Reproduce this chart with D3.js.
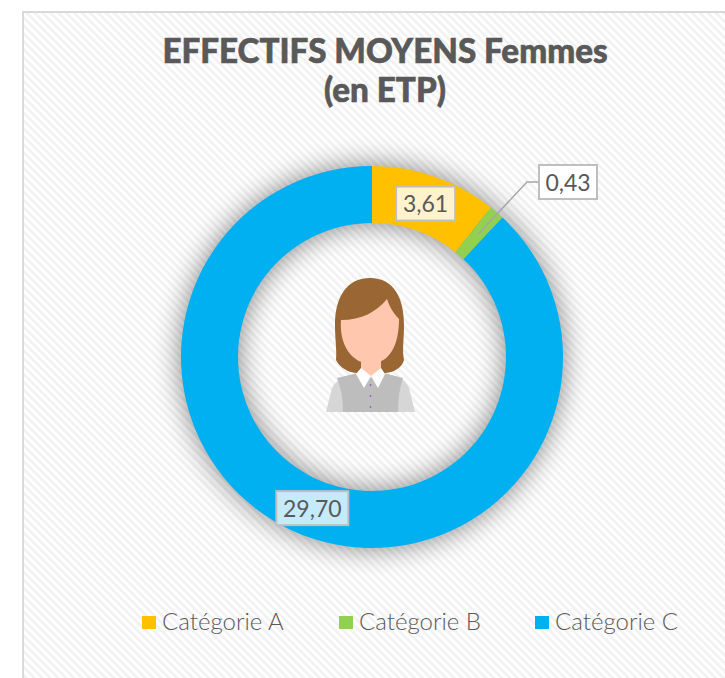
<!DOCTYPE html>
<html lang="fr"><head><meta charset="utf-8">
<script src="https://cdnjs.cloudflare.com/ajax/libs/d3/7.8.5/d3.min.js"></script>
<style>html,body{margin:0;padding:0;background:#fff}svg{display:block}</style>
</head><body><div id="c"></div>
<script>
const categories = ["Catégorie A", "Catégorie B", "Catégorie C"];
const values = [3.61, 0.43, 29.70];
const valueLabels = ["3,61", "0,43", "29,70"];
const colors = ["#FFC000", "#92D050", "#00B0F0"];
const labelFills = ["#FFF2CC", "#FFFFFF", "#C5EBFB"];
const titleLines = ["EFFECTIFS MOYENS Femmes", "(en ETP)"];

const W = 725, H = 678, cx = 372, cy = 357, rOuter = 191, rInner = 134;
const svg = d3.select("#c").append("svg").attr("width", W).attr("height", H);
const defs = svg.append("defs");
const pat = defs.append("pattern").attr("id", "hatch").attr("width", 5.6).attr("height", 5.6)
  .attr("patternUnits", "userSpaceOnUse").attr("patternTransform", "rotate(45)");
pat.append("rect").attr("width", 5.6).attr("height", 5.6).attr("fill", "#fff");
pat.append("rect").attr("width", 5.6).attr("height", 2.8).attr("fill", "#f2f2f2");
const blur = defs.append("filter").attr("id", "shadow").attr("x", "-30%").attr("y", "-30%").attr("width", "160%").attr("height", "160%");
blur.append("feGaussianBlur").attr("stdDeviation", 14);

svg.append("rect").attr("x", 23).attr("y", 12).attr("width", W + 20).attr("height", H + 20)
  .attr("fill", "url(#hatch)").attr("stroke", "#d9d9d9").attr("stroke-width", 2);

svg.append("g").selectAll("text").data(titleLines).join("text")
  .attr("x", 385).attr("y", (d, i) => 63 + i * 39).attr("text-anchor", "middle")
  .attr("font-family", "Lato").attr("font-weight", 900).attr("font-size", 33.2).attr("fill", "#595959")
  .attr("stroke", "#595959").attr("stroke-width", 0.6)
  .text(d => d);

const pie = d3.pie().sort(null).value(d => d);
const arcs = pie(values);
const arc = d3.arc().innerRadius(rInner).outerRadius(rOuter);
const ring = svg.append("g").attr("transform", `translate(${cx},${cy})`);
ring.append("path").attr("d", d3.arc().innerRadius(rInner).outerRadius(rOuter)({startAngle: 0, endAngle: 2 * Math.PI}))
  .attr("fill", "#000").attr("opacity", 0.48).attr("filter", "url(#shadow)");
ring.selectAll("path.s").data(arcs).join("path").attr("class", "s").attr("d", arc).attr("fill", (d, i) => colors[i]);

// Leader line for the small slice
const c1 = arc.centroid(arcs[1]);
ring.append("path").attr("d", d3.line()([c1, [155, -175], [166, -175]]))
  .attr("fill", "none").attr("stroke", "#a6a6a6").attr("stroke-width", 1.5);

// Value labels
const boxW = [59, 58, 72], boxH = 34;
const centers = [arc.centroid(arcs[0]), [196, -175], arc.centroid(arcs[2])];
const lab = ring.selectAll("g.l").data(values).join("g").attr("class", "l")
  .attr("transform", (d, i) => `translate(${centers[i]})`);
lab.append("rect").attr("x", (d, i) => -boxW[i] / 2).attr("y", -boxH / 2).attr("width", (d, i) => boxW[i]).attr("height", boxH)
  .attr("fill", (d, i) => labelFills[i]).attr("stroke", "#bfbfbf").attr("stroke-width", 2);
lab.append("text").attr("text-anchor", "middle").attr("y", 8.5)
  .attr("font-family", "Lato").attr("font-size", 23).attr("fill", "#595959").text((d, i) => valueLabels[i]);

// Person icon
const p = svg.append("g");
p.append("path").attr("fill", "#D6D6D6").attr("d", "M326 412 L332 388 Q336 380 345 377 L362 372 L380 372 L397 377 Q406 380 409 388 L415 412 Z");
p.append("path").attr("fill", "#BDBDBD").attr("d", "M343 412 Q343 392 337 378 L362 372 L380 372 L403 378 Q398 392 398 412 Z");
p.append("path").attr("fill", "#9A6634").attr("d", "M370 278 C346 278 335 298 335 325 C335 340 337 350 336 360 C340 368 350 374 360 373 L382 373 C392 374 402 368 404 360 C402 350 404 340 404 325 C404 298 394 278 370 278 Z");
p.append("path").attr("fill", "#FFC7AE").attr("d", "M341 320 C362 320 376 312 387 299 C390 308 394 314 399 319 C399 345 390 362 372 364 C352 364 339 345 341 320 Z");
p.append("path").attr("fill", "#FFC7AE").attr("d", "M361 360 L381 360 L381 372 L371 378 L361 372 Z");
p.append("path").attr("fill", "#FFFFFF").attr("d", "M361 368 L371 376 L364 388 L356 374 Z M381 368 L371 376 L378 388 L385 374 Z");
p.append("g").attr("fill", "#9B59D0").selectAll("circle").data([385, 396, 407]).join("circle")
  .attr("cx", 370.5).attr("cy", d => d).attr("r", 0.9);

// Legend
const legendX = [142, 339, 535];
const lg = svg.selectAll("g.lg").data(categories).join("g").attr("class", "lg")
  .attr("transform", (d, i) => `translate(${legendX[i]},616)`);
lg.append("rect").attr("width", 14).attr("height", 13).attr("fill", (d, i) => colors[i]);
lg.append("text").attr("x", 20).attr("y", 14).attr("font-family", "Lato").attr("font-weight", 300)
  .attr("font-size", 24).attr("fill", "#595959").text(d => d);
</script></body></html>
